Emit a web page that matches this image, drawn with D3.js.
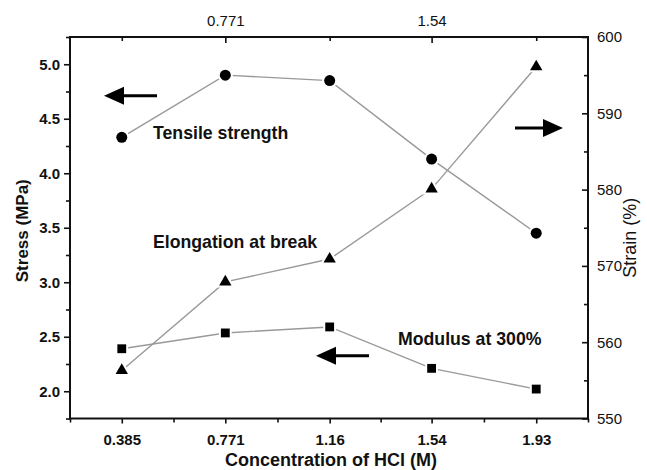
<!DOCTYPE html>
<html>
<head>
<meta charset="utf-8">
<script src="https://cdn.jsdelivr.net/npm/d3@7"></script>
<style>
  body { margin: 0; background: #fff; }
  text { font-family: "Liberation Sans", Arial, sans-serif; fill: #111; }
  .tick line { stroke: #111; stroke-width: 1.6px; }
</style>
</head>
<body>
<div id="chart"></div>
<script>
// HCl concentration (M)
var concentration = [0.385, 0.771, 1.16, 1.54, 1.93];
// left axis, MPa
var tensileStrength = [4.33, 4.90, 4.85, 4.13, 3.45];
var modulus300 = [2.39, 2.535, 2.59, 2.21, 2.02];
// right axis, %
var elongation = [556.3, 567.9, 570.9, 580.1, 596.1];

var bottomTicks = [0.385, 0.771, 1.16, 1.54, 1.93];
var topTicks = [0.771, 1.54];
var leftTicks = [2.0, 2.5, 3.0, 3.5, 4.0, 4.5, 5.0];
var rightTicks = [550, 560, 570, 580, 590, 600];

var svgW = 647, svgH = 470;
var margin = {top: 37, right: 59, bottom: 51.5, left: 70},
    width = svgW - margin.left - margin.right,
    height = svgH - margin.top - margin.bottom;

var svg = d3.select("#chart").append("svg")
    .attr("width", svgW)
    .attr("height", svgH);

var g = svg.append("g")
    .attr("transform", "translate(" + margin.left + "," + margin.top + ")");

// half a step of padding each side of the concentration values
var x = d3.scaleLinear().domain([0.192, 2.123]).range([0, width]);
var yL = d3.scaleLinear().domain([1.75, 5.25]).range([height, 0]);
var yR = d3.scaleLinear().domain([550, 600]).range([height, 0]);

function midpoints(v) {
  var out = [x.domain()[0]];
  for (var i = 0; i < v.length - 1; i++) out.push((v[i] + v[i + 1]) / 2);
  out.push(x.domain()[1]);
  return out;
}
function noDomain(sel) { sel.select(".domain").remove(); }

// bottom axis
g.append("g")
    .attr("transform", "translate(0," + height + ")")
    .call(d3.axisBottom(x).tickValues(bottomTicks).tickSize(5).tickPadding(11)
      .tickFormat(function(d) { return d; }))
    .call(noDomain)
    .selectAll("text")
      .style("font-size", "15px").style("font-weight", "bold");
g.append("g")
    .attr("transform", "translate(0," + height + ")")
    .call(d3.axisBottom(x).tickValues(midpoints(bottomTicks)).tickSize(4).tickFormat(""))
    .call(noDomain);

// top axis, ticks inside
g.append("g")
    .call(d3.axisTop(x).tickValues(topTicks).tickSize(-6).tickPadding(11)
      .tickFormat(function(d) { return d; }))
    .call(noDomain)
    .selectAll("text")
      .style("font-size", "15px");
g.append("g")
    .call(d3.axisTop(x).tickValues([0.385, 1.16, 1.93]).tickSize(-4).tickFormat(""))
    .call(noDomain);

// left axis
g.append("g")
    .call(d3.axisLeft(yL).tickValues(leftTicks).tickSize(6).tickPadding(4)
      .tickFormat(d3.format(".1f")))
    .call(noDomain)
    .selectAll("text")
      .style("font-size", "15px").style("font-weight", "bold");
g.append("g")
    .call(d3.axisLeft(yL).tickValues(d3.range(1.75, 5.3, 0.5)).tickSize(4).tickFormat(""))
    .call(noDomain);

// right axis, ticks inside
g.append("g")
    .attr("transform", "translate(" + width + ",0)")
    .call(d3.axisRight(yR).tickValues(rightTicks).tickSize(-6).tickPadding(9))
    .call(noDomain)
    .selectAll("text")
      .style("font-size", "15px");
g.append("g")
    .attr("transform", "translate(" + width + ",0)")
    .call(d3.axisRight(yR).tickValues(d3.range(555, 600, 10)).tickSize(-4).tickFormat(""))
    .call(noDomain);

// frame
g.append("rect")
    .attr("width", width)
    .attr("height", height)
    .attr("fill", "none")
    .attr("stroke", "#111")
    .attr("stroke-width", 2);

// axis titles
g.append("text")
    .attr("x", width / 2 + 2)
    .attr("y", height + 47)
    .attr("text-anchor", "middle")
    .style("font-size", "18px").style("font-weight", "bold")
    .text("Concentration of HCl (M)");
g.append("text")
    .attr("transform", "translate(" + (-42) + "," + (height / 2 + 3) + ") rotate(-90)")
    .attr("text-anchor", "middle")
    .style("font-size", "17px").style("font-weight", "bold")
    .text("Stress (MPa)");
g.append("text")
    .attr("transform", "translate(" + (width + 48) + "," + (height / 2 + 10) + ") rotate(-90)")
    .attr("text-anchor", "middle")
    .style("font-size", "18px")
    .text("Strain (%)");

// series
function series(vals, yScale, symbol, size) {
  var pts = concentration.map(function(c, i) { return [x(c), yScale(vals[i])]; });
  g.append("path")
      .datum(pts)
      .attr("fill", "none")
      .attr("stroke", "#999")
      .attr("stroke-width", 1.4)
      .attr("d", d3.line());
  g.selectAll(null)
      .data(pts)
      .enter().append("path")
      .attr("transform", function(d) { return "translate(" + d[0] + "," + d[1] + ")"; })
      .attr("d", d3.symbol().type(symbol).size(size))
      .attr("fill", "#000")
      .attr("stroke", "#fff")
      .attr("stroke-width", 4)
      .attr("paint-order", "stroke");
}
series(tensileStrength, yL, d3.symbolCircle, 95);
series(modulus300, yL, d3.symbolSquare, 78);
series(elongation, yR, d3.symbolTriangle, 66);

// labels
function label(tx, ty, s) {
  g.append("text")
      .attr("x", tx).attr("y", ty)
      .style("font-size", "17.7px").style("font-weight", "bold")
      .text(s);
}
label(83, 101.5, "Tensile strength");
label(83, 211, "Elongation at break");
label(328, 308, "Modulus at 300%");

// arrows
function arrow(x1, x2, ay) {
  var dir = x2 > x1 ? 1 : -1;
  g.append("line")
      .attr("x1", x1).attr("x2", x2 - dir * 16)
      .attr("y1", ay).attr("y2", ay)
      .attr("stroke", "#000")
      .attr("stroke-width", 3);
  g.append("path")
      .attr("d", "M" + x2 + "," + ay + "L" + (x2 - dir * 20) + "," + (ay - 9) +
        "L" + (x2 - dir * 20) + "," + (ay + 9) + "Z")
      .attr("fill", "#000");
}
arrow(87, 34, 58.7);
arrow(445, 493, 91);
arrow(299, 246, 318.7);
</script>
</body>
</html>
